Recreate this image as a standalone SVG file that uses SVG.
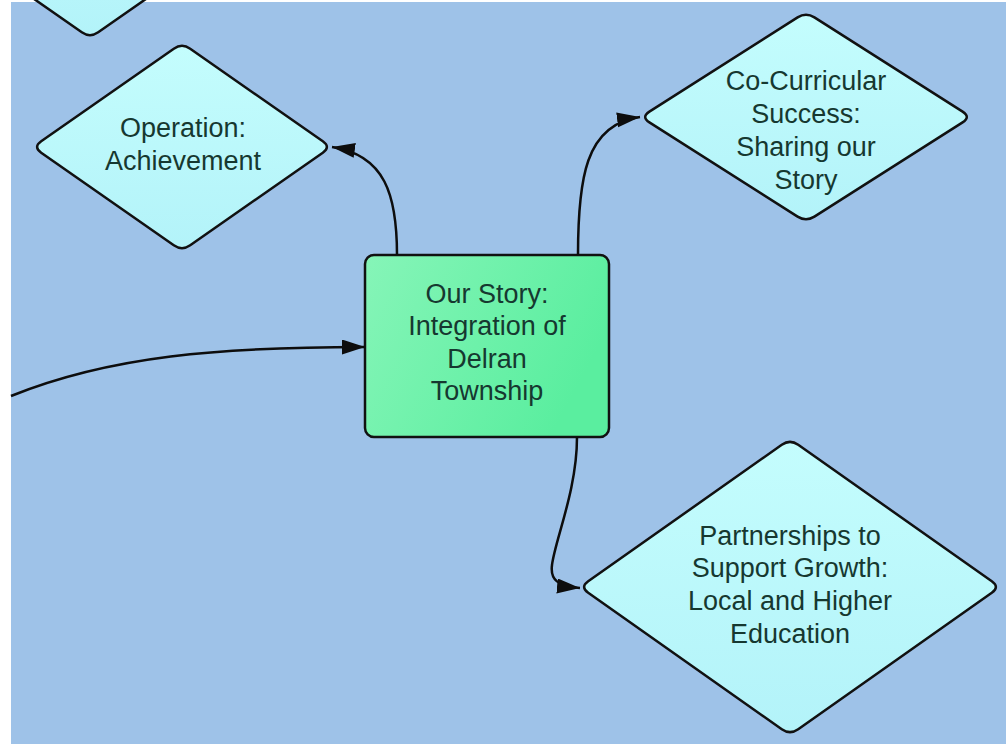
<svg xmlns="http://www.w3.org/2000/svg" width="1006" height="744" viewBox="0 0 1006 744">
<defs>
<linearGradient id="gDia" x1="0" y1="0" x2="0" y2="1">
<stop offset="0" stop-color="#c4fdfd"/>
<stop offset="1" stop-color="#b3f3f9"/>
</linearGradient>
<linearGradient id="gRect" x1="0" y1="0" x2="1" y2="0.4">
<stop offset="0" stop-color="#86f5b8"/>
<stop offset="1" stop-color="#5aee9f"/>
</linearGradient>
<marker id="arr" markerUnits="userSpaceOnUse" markerWidth="26" markerHeight="16" refX="23" refY="7.5" orient="auto">
<path d="M0,0 L23,7.5 L0,15 Z" fill="#0d0d0d"/>
</marker>
<style>
.dia{fill:url(#gDia);stroke:#111;stroke-width:2.5;stroke-linejoin:round}
.box{fill:url(#gRect);stroke:#111;stroke-width:2.5}
.lbl{font-family:"Liberation Sans",Arial,sans-serif;font-size:27px;fill:#163830;text-anchor:middle}
.con{fill:none;stroke:#0d0d0d;stroke-width:2.5}
</style>
</defs>
<rect x="0" y="0" width="1006" height="744" fill="#ffffff"/>
<rect x="11" y="2" width="995" height="742" fill="#9ec2e8"/>

<g id="node-top-partial">
<path class="dia" d="M-59,-66 L81.8,32.3 Q90,38 98.2,32.3 L239,-66 L90,-170 Z"/>
</g>

<g id="node-operation">
<path class="dia" d="M173.8,48.7 Q182,43 190.2,48.7 L322.8,141.3 Q331,147 322.8,152.7 L190.2,245.3 Q182,251 173.8,245.3 L41.2,152.7 Q33,147 41.2,141.3 Z"/>
<text class="lbl" x="183" y="137">Operation:</text>
<text class="lbl" x="183" y="170">Achievement</text>
</g>

<g id="node-cocurricular">
<path class="dia" d="M797.6,17.4 Q806,12 814.4,17.4 L962.6,111.6 Q971,117 962.6,122.4 L814.4,216.6 Q806,222 797.6,216.6 L649.4,122.4 Q641,117 649.4,111.6 Z"/>
<text class="lbl" x="806" y="90">Co-Curricular</text>
<text class="lbl" x="806" y="123">Success:</text>
<text class="lbl" x="806" y="156">Sharing our</text>
<text class="lbl" x="806" y="189">Story</text>
</g>

<g id="node-ourstory">
<rect class="box" x="365" y="255" width="244" height="182" rx="9" ry="9"/>
<text class="lbl" x="487" y="303">Our Story:</text>
<text class="lbl" x="487" y="335">Integration of</text>
<text class="lbl" x="487" y="368">Delran</text>
<text class="lbl" x="487" y="400">Township</text>
</g>

<g id="node-partnerships">
<path class="dia" d="M781.8,444.8 Q790,439 798.2,444.8 L991.8,581.2 Q1000,587 991.8,592.8 L798.2,729.2 Q790,735 781.8,729.2 L588.2,592.8 Q580,587 588.2,581.2 Z"/>
<text class="lbl" x="790" y="545">Partnerships to</text>
<text class="lbl" x="790" y="577">Support Growth:</text>
<text class="lbl" x="790" y="610">Local and Higher</text>
<text class="lbl" x="790" y="643">Education</text>
</g>

<g id="connectors">
<path class="con" d="M11,396 C110,356 220,347 365,347" marker-end="url(#arr)"/>
<path class="con" d="M397,255 C397,195 385,155 332,147" marker-end="url(#arr)"/>
<path class="con" d="M578,255 C578,180 585,124 640,117" marker-end="url(#arr)"/>
<path class="con" d="M577,437 C577,490 555,540 552,565 C550,580 558,586 580,588" marker-end="url(#arr)"/>
</g>
</svg>
